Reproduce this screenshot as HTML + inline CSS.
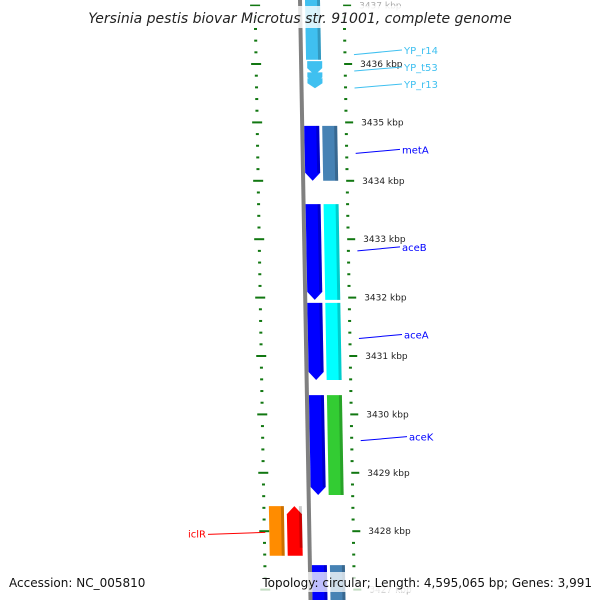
<!DOCTYPE html>
<html><head><meta charset="utf-8"><style>
html,body{margin:0;padding:0;background:#fff;}
svg{display:block;font-family:"DejaVu Sans","Liberation Sans",sans-serif;}
</style></head><body>
<svg id="map" width="600" height="600" viewBox="0 0 600 600" xmlns="http://www.w3.org/2000/svg">
<g id="ticks"></g>
<g id="features"></g>
<g id="labels"></g>
<rect x="90" y="6" width="420" height="22" fill="#fff" opacity="0.8"/>
<text x="300" y="23" text-anchor="middle" font-size="14" font-style="italic" fill="#222">Yersinia pestis biovar Microtus str. 91001, complete genome</text>
<rect x="5" y="572" width="150" height="20" fill="#fff" opacity="0.8"/>
<text x="9" y="587" font-size="12" fill="#111">Accession: NC_005810</text>
<rect x="258" y="572" width="338" height="20" fill="#fff" opacity="0.75"/>
<text x="592" y="587" text-anchor="end" font-size="12" fill="#111">Topology: circular; Length: 4,595,065 bp; Genes: 3,991</text>
</svg>
<script>
const tickKbp = [3437,3436,3435,3434,3433,3432,3431,3430,3429,3428,3427];
const tickLabels = ["3437 kbp","3436 kbp","3435 kbp","3434 kbp","3433 kbp","3432 kbp","3431 kbp","3430 kbp","3429 kbp","3428 kbp","3427 kbp"];
const geneNames = ["top-gene","metA","aceB","aceA","aceK","iclR","bottom-gene"];
const geneStart = [3437.2,3434.94,3433.60,3431.91,3430.33,3428.43,3427.42];
const geneEnd = [3435.73,3434.00,3431.96,3430.59,3428.62,3427.58,3426.8];
const geneStrand = [-1,-1,-1,-1,-1,1,-1];
const geneColor = ["#3fc0f0","#0000ff","#0000ff","#0000ff","#0000ff","#ff0000","#0000ff"];
const partnerColor = ["","#4682b4","#00ffff","#00ffff","#33cc33","#ff8c00","#4682b4"];
const labelNames = ["YP_r14","YP_t53","YP_r13","metA","aceB","aceA","aceK","iclR"];
const labelKbp = [3436.16,3435.88,3435.59,3434.47,3432.80,3431.30,3429.55,3427.98];
const labelColor = ["#3fc0f0","#3fc0f0","#3fc0f0","#0000ff","#0000ff","#0000ff","#0000ff","#ff0000"];
const labelSide = [1,1,1,1,1,1,1,-1];
const chevronKbp = [3435.93,3435.77,3435.67];

const NS="http://www.w3.org/2000/svg";
function yOf(k){return 64+(3436-k)*58.4;}
function dx(y){return 0.0175*y;}
function mk(tag,attrs,parent){const e=document.createElementNS(NS,tag);for(const a in attrs)e.setAttribute(a,attrs[a]);parent.appendChild(e);return e;}
const T=document.getElementById('ticks'),F=document.getElementById('features'),L=document.getElementById('labels');

// backbone
const bb=mk('polygon',{points:`298,0 302,0 ${302+dx(600)},600 ${298+dx(600)},600`,fill:'#808080'},F);



// ticks
for(let k=3437.4;k>=3426.6;k-=0.2){
  const kk=Math.round(k*5)/5;
  const y=yOf(kk);
  const major=Math.abs(kk-Math.round(kk))<0.01;
  const lx=255+dx(y), rx=344+dx(y);
  const a=mk('rect',{x:major?lx-5:lx-1.5,y:y-1,width:major?10:3,height:2,fill:'#117711'},T);
  
  
  const b=mk('rect',{x:major?rx-1:rx-1.5,y:y-1,width:major?8:3,height:2,fill:'#117711'},T);
  
  
}
tickKbp.forEach((k,i)=>{
  const y=yOf(k);
  const t=mk('text',{x:359+dx(y),y:y+3,'font-size':9,fill:(k===3437||k===3427)?'#aaa':'#222'},T);
  t.textContent=tickLabels[i];
  
  
});

function block(x0,x1,ys,ye,strand,color,name){
  const h=8;
  let pts;
  const a=dx(ys),b=dx(ye);
  const mid=(x0+x1)/2;
  if(strand<0){
    pts=[[x0+a,ys],[x1+a,ys],[x1+b,ye-h],[mid+b,ye],[x0+b,ye-h]];
  }else if(strand>0){
    pts=[[mid+a,ys],[x1+a,ys+h],[x1+b,ye],[x0+b,ye],[x0+a,ys+h]];
  }else{
    pts=[[x0+a,ys],[x1+a,ys],[x1+b,ye],[x0+b,ye]];
  }
  const p=mk('polygon',{points:pts.map(q=>q.join(',')).join(' '),fill:color},F);
  
  
  const s=mk('polygon',{points:`${x1-3+a},${ys} ${x1+a},${ys} ${x1+b},${ye-(strand?h:0)} ${x1-3+b},${ye-(strand?h:0)}`,fill:'#000',opacity:0.2},F);
  
  
}
geneNames.forEach((n,i)=>{
  const ys=yOf(geneStart[i]), ye=yOf(geneEnd[i]);
  if(geneStrand[i]>0){
    block(278,293,ys,ye,1,geneColor[i],n+'-gene');
    block(260,275,ys,ye,0,partnerColor[i],n+'-partner');
  }else if(i===0){
    block(305,320,ys,ye-20,0,geneColor[i],n+'-gene');
  }else{
    block(302,317,ys,ye,i===6?0:-1,geneColor[i],n+'-gene');
    block(320,335,ys,ye,0,partnerColor[i],n+'-partner');
  }
});
chevronKbp.forEach((k,i)=>{
  const y=yOf(k);const s=i===0?7:5;
  const c=mk('polygon',{points:`${306+dx(y)},${y-s} ${321+dx(y)},${y-s} ${321+dx(y)},${y} ${313.5+dx(y)},${y+s} ${306+dx(y)},${y}`,fill:'#3fc0f0'},F);
  
  
});

labelNames.forEach((n,i)=>{
  const y=yOf(labelKbp[i]);
  let x1,x2,tx,ty;
  if(labelSide[i]>0){
    x1=353+dx(y)-(i>=3?0:0);
    if(i<3){x2=402;ty=[54,71,88][i];tx=404;}
    else{x2=400+ (i===6?7:i===5?2:0);ty=y;tx=x2+2;}
    const ln=mk('line',{x1:x1,y1:y,x2:x2,y2:ty-4,stroke:labelColor[i],'stroke-width':1},L);
    
    
    const t=mk('text',{x:tx,y:ty,'font-size':10,fill:labelColor[i]},L);
    t.textContent=n;
    
    
  }else{
    const ln=mk('line',{x1:208,y1:y+2,x2:256+dx(y),y2:y,stroke:labelColor[i],'stroke-width':1},L);
    
    
    const t=mk('text',{x:206,y:y+5,'font-size':10,'text-anchor':'end',fill:labelColor[i]},L);
    t.textContent=n;
    
    
  }
});
</script>
</body></html>
